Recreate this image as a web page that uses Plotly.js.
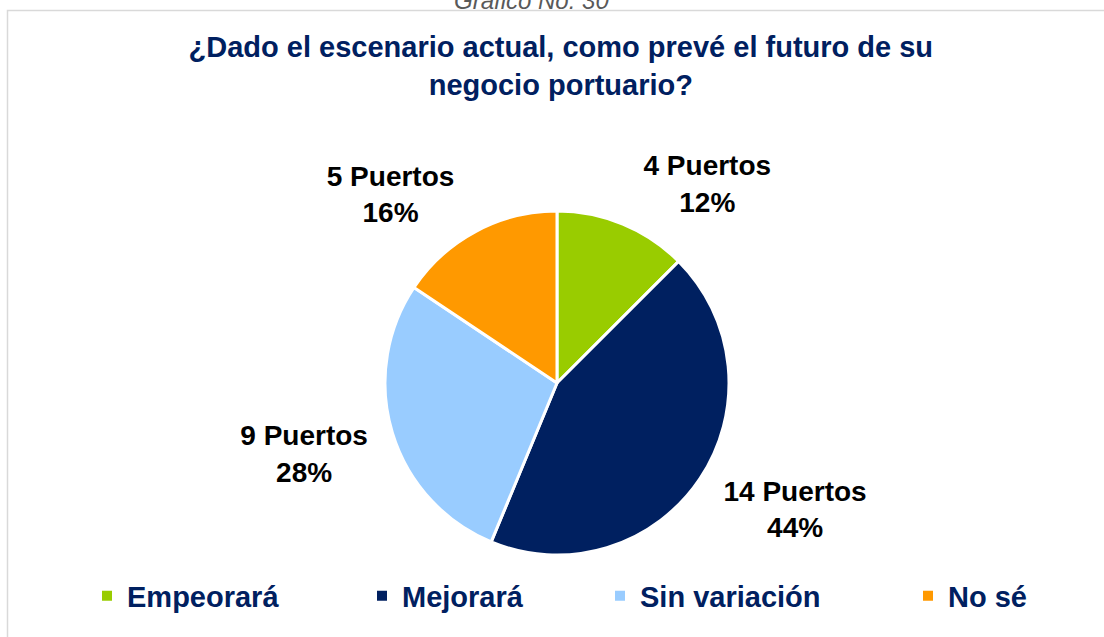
<!DOCTYPE html>
<html>
<head>
<meta charset="utf-8">
<script src="https://cdn.plot.ly/plotly-3.0.1.min.js"></script>
<style>html,body{margin:0;padding:0;background:#fff;}#chart{width:1104px;height:637px;}</style>
</head>
<body>
<div id="chart"></div>
<script>
var categories = ["Empeorará", "Mejorará", "Sin variación", "No sé"];
var puertos = [4, 14, 9, 5];
var percentLabels = ["12%", "44%", "28%", "16%"];
var colors = ["#99CC00", "#002060", "#99CCFF", "#FF9900"];
var chartTitle = "¿Dado el escenario actual, como prevé el futuro de su<br>negocio portuario?";
var caption = "Gráfico No. 30";

var W = 1104, H = 637;
var cx = 557, cy = 383, r = 172;
var topLabelR = 182, topLabelDrop = -2;
var bottomLabelR = 180, bottomLabelDrop = 16;
var legendLeft = [90, 365, 603, 911];
var legendY = 596;
var FONT = "Arial, Liberation Sans, sans-serif";

var labelText = puertos.map(function (p, i) { return p + " Puertos<br>" + percentLabels[i]; });

// which slices have their middle in the upper half of the pie (clockwise from 12 o'clock)
var total = puertos.reduce(function (a, b) { return a + b; }, 0);
var cum = 0;
var isTop = puertos.map(function (v) {
  var mid = (cum + v / 2) / total * 2 * Math.PI;
  cum += v;
  return Math.cos(mid) > 0;
});

function dom(x0, y0, rad) {
  return {x: [(x0 - rad) / W, (x0 + rad) / W], y: [(H - y0 - rad) / H, (H - y0 + rad) / H]};
}

var pieTrace = {
  type: "pie",
  labels: categories,
  values: puertos,
  textinfo: "none",
  sort: false,
  direction: "clockwise",
  rotation: 0,
  marker: {colors: colors, line: {color: "#FFFFFF", width: 3}},
  domain: dom(cx, cy, r),
  showlegend: false,
  hoverinfo: "none"
};

function labelPie(wantTop, rad, drop) {
  return {
    type: "pie",
    labels: categories,
    values: puertos,
    text: labelText.map(function (t, i) { return isTop[i] === wantTop ? t : ""; }),
    texttemplate: "%{text}",
    textinfo: "text",
    textposition: "outside",
    outsidetextfont: {family: FONT, size: 28, color: "#000000", weight: "bold"},
    sort: false,
    direction: "clockwise",
    rotation: 0,
    marker: {colors: categories.map(function () { return "rgba(0,0,0,0)"; }), line: {width: 0}},
    domain: dom(cx, cy + drop, rad),
    showlegend: false,
    hoverinfo: "none"
  };
}

// legend keys (one per category, each in its own legend box)
var legendTraces = categories.map(function (c, i) {
  return {
    type: "scatter", mode: "markers",
    x: [null], y: [null],
    name: c,
    marker: {symbol: "square", size: 10, color: colors[i]},
    showlegend: true,
    legend: i === 0 ? "legend" : "legend" + (i + 1),
    hoverinfo: "none"
  };
});

var layout = {
  width: W, height: H,
  margin: {l: 0, r: 0, t: 0, b: 0},
  paper_bgcolor: "#FFFFFF",
  plot_bgcolor: "rgba(0,0,0,0)",
  font: {family: FONT},
  xaxis: {visible: false, range: [0, 1]},
  yaxis: {visible: false, range: [0, 1]},
  title: {
    text: chartTitle,
    font: {family: FONT, size: 29, color: "#002060", weight: "bold"},
    x: 0.508, xanchor: "center", xref: "paper",
    y: 1 - 57 / H, yanchor: "middle", yref: "container"
  },
  showlegend: true,
  annotations: [{
    text: "<i>" + caption + "</i>",
    xref: "paper", yref: "paper", x: 531 / W, y: 1, xanchor: "center", yanchor: "middle",
    yshift: 0, showarrow: false,
    font: {family: FONT, size: 24, color: "#595959"}
  }],
  shapes: [{
    type: "rect", xref: "paper", yref: "paper",
    x0: 7.5 / W, x1: 1.01, y0: -0.01, y1: 1 - 10.5 / H,
    line: {color: "#D9D9D9", width: 1.5}, fillcolor: "rgba(0,0,0,0)", layer: "below"
  }]
};

legendLeft.forEach(function (lx, i) {
  var key = i === 0 ? "legend" : "legend" + (i + 1);
  layout[key] = {
    orientation: "h",
    x: (lx - 3) / W, xanchor: "left",
    y: 1 - legendY / H, yanchor: "middle",
    bgcolor: "rgba(0,0,0,0)",
    font: {family: FONT, size: 29, color: "#002060", weight: "bold"},
    itemclick: false, itemdoubleclick: false
  };
});

Plotly.newPlot("chart",
  [pieTrace, labelPie(true, topLabelR, topLabelDrop), labelPie(false, bottomLabelR, bottomLabelDrop)].concat(legendTraces),
  layout, {displayModeBar: false, staticPlot: true});
</script>
</body>
</html>
